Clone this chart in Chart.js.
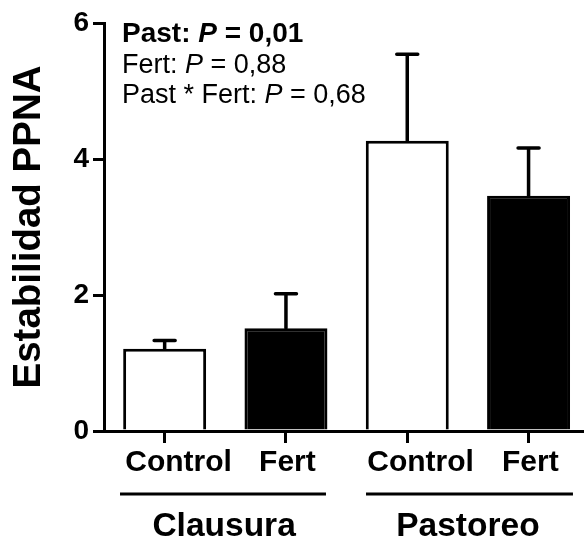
<!DOCTYPE html>
<html>
<head>
<meta charset="utf-8">
<script src="https://cdn.jsdelivr.net/npm/chart.js@4"></script>
<style>
  html, body { margin: 0; padding: 0; background: #ffffff; }
  #wrap { width: 584px; height: 542px; }
</style>
</head>
<body>
<div id="wrap"><canvas id="chart" width="584" height="542"></canvas></div>
<script>
// Treatments (fertilisation) within each grazing condition
const treatments = ['Control', 'Fert', 'Control', 'Fert'];
const grazing = ['Clausura', 'Pastoreo'];
// Mean ANPP stability and the top of each error bar (mean + SE)
const meanStability = [1.21, 1.51, 4.27, 3.46];
const upperError = [1.33, 2.02, 5.54, 4.16];
const barColors = ['#ffffff', '#000000', '#ffffff', '#000000'];
const yTicks = [0, 2, 4, 6];
// ANOVA results
const effects = ['Past', 'Fert', 'Past * Fert'];
const pValues = ['0,01', '0,88', '0,68'];
const significant = [true, false, false];

const FONT = "'Liberation Sans', Arial, Helvetica, sans-serif";
const X_MIN = -0.5;
const X_MAX = 3.457;
// where each treatment label and grazing label sits along the x axis
const treatmentLabelAt = [0.115, 1.012, 2.11, 3.015];
const grazingLabelAt = [0.49, 2.5];
const grazingSpan = [[-0.368, 1.33], [1.66, 3.366]];

const errorBars = {
  id: 'errorBars',
  afterDatasetsDraw(chart) {
    const ctx = chart.ctx;
    const y = chart.scales.y;
    const meta = chart.getDatasetMeta(0);
    ctx.save();
    ctx.strokeStyle = '#000';
    ctx.lineWidth = 3.5;
    ctx.lineCap = 'round';
    meta.data.forEach((bar, i) => {
      const top = y.getPixelForValue(upperError[i]);
      ctx.beginPath();
      ctx.moveTo(bar.x, bar.y);
      ctx.lineTo(bar.x, top);
      ctx.moveTo(bar.x - 10.5, top);
      ctx.lineTo(bar.x + 10.5, top);
      ctx.stroke();
    });
    ctx.restore();
  }
};

const groupLines = {
  id: 'groupLines',
  afterDraw(chart) {
    const ctx = chart.ctx;
    const x = chart.scales.x;
    const yLine = chart.chartArea.bottom + 63;
    ctx.save();
    ctx.strokeStyle = '#000';
    ctx.lineWidth = 3;
    grazingSpan.forEach(([a, b]) => {
      ctx.beginPath();
      ctx.moveTo(x.getPixelForValue(a), yLine);
      ctx.lineTo(x.getPixelForValue(b), yLine);
      ctx.stroke();
    });
    ctx.restore();
  }
};

const statsText = {
  id: 'statsText',
  afterDraw(chart) {
    const ctx = chart.ctx;
    const left = chart.chartArea.left + 18;
    const top = chart.chartArea.top;
    ctx.save();
    ctx.fillStyle = '#000';
    ctx.textBaseline = 'alphabetic';
    effects.forEach((name, i) => {
      const weight = significant[i] ? 'bold ' : '';
      const size = significant[i] ? 28 : 27;
      const baseline = top + 19 + i * 30.5;
      const parts = [
        [name + ': ', weight + size + 'px ' + FONT],
        ['P', 'italic ' + weight + size + 'px ' + FONT],
        [' = ' + pValues[i], weight + size + 'px ' + FONT]
      ];
      let x = left;
      parts.forEach(([t, f]) => {
        ctx.font = f;
        ctx.fillText(t, x, baseline);
        x += ctx.measureText(t).width;
      });
    });
    ctx.restore();
  }
};

new Chart(document.getElementById('chart'), {
  type: 'bar',
  data: {
    datasets: [{
      data: meanStability.map((v, i) => ({ x: i, y: v })),
      backgroundColor: barColors,
      borderColor: '#000000',
      borderWidth: 3,
      borderSkipped: 'start',
      barPercentage: 0.684,
      categoryPercentage: 1
    }]
  },
  options: {
    responsive: false,
    animation: false,
    layout: { padding: { top: 23, left: 0, right: 0, bottom: 0 } },
    plugins: {
      legend: { display: false },
      tooltip: { enabled: false }
    },
    scales: {
      x: {
        type: 'linear', axis: 'x', position: 'bottom', weight: 0,
        min: X_MIN, max: X_MAX, offset: false,
        grid: { display: true, drawOnChartArea: false, drawTicks: true, tickLength: 12,
                tickWidth: 3, lineWidth: 3, color: '#000', offset: false },
        border: { display: true, width: 3, color: '#000' },
        ticks: { display: false },
        afterBuildTicks: s => { s.ticks = treatments.map((_, i) => ({ value: i })); },
        afterFit: s => { s.height = 12; }
      },
      x2: {
        type: 'linear', axis: 'x', position: 'bottom', weight: 1,
        min: X_MIN, max: X_MAX, offset: false,
        grid: { display: false, drawTicks: false },
        border: { display: false },
        ticks: {
          autoSkip: false, maxRotation: 0, minRotation: 0, color: '#000', padding: 2,
          font: { family: FONT, size: 30, weight: 'bold' },
          callback: (v, i) => treatments[i]
        },
        afterBuildTicks: s => { s.ticks = treatmentLabelAt.map(v => ({ value: v })); },
        afterFit: s => { s.height = 46; }
      },
      x3: {
        type: 'linear', axis: 'x', position: 'bottom', weight: 2,
        min: X_MIN, max: X_MAX, offset: false,
        grid: { display: false, drawTicks: false },
        border: { display: false },
        ticks: {
          autoSkip: false, maxRotation: 0, minRotation: 0, color: '#000', padding: 18,
          font: { family: FONT, size: 33.5, weight: 'bold' },
          callback: (v, i) => grazing[i]
        },
        afterBuildTicks: s => { s.ticks = grazingLabelAt.map(v => ({ value: v })); },
        afterFit: s => { s.height = 53; }
      },
      y: {
        position: 'left', min: 0, max: 6,
        grid: { drawOnChartArea: false, drawTicks: true, tickLength: 11,
                tickWidth: 3, lineWidth: 3, color: '#000' },
        border: { display: true, width: 3, color: '#000' },
        ticks: { color: '#000', padding: 4, font: { family: FONT, size: 28, weight: 'bold' } },
        afterBuildTicks: s => { s.ticks = yTicks.map(v => ({ value: v })); },
        title: {
          display: true, text: 'Estabilidad PPNA', color: '#000',
          font: { family: FONT, size: 38.5, weight: 'bold' },
          padding: { top: 6, bottom: 0 }
        },
        afterFit: s => { s.width = 104; }
      }
    }
  },
  plugins: [errorBars, groupLines, statsText]
});
</script>
</body>
</html>
